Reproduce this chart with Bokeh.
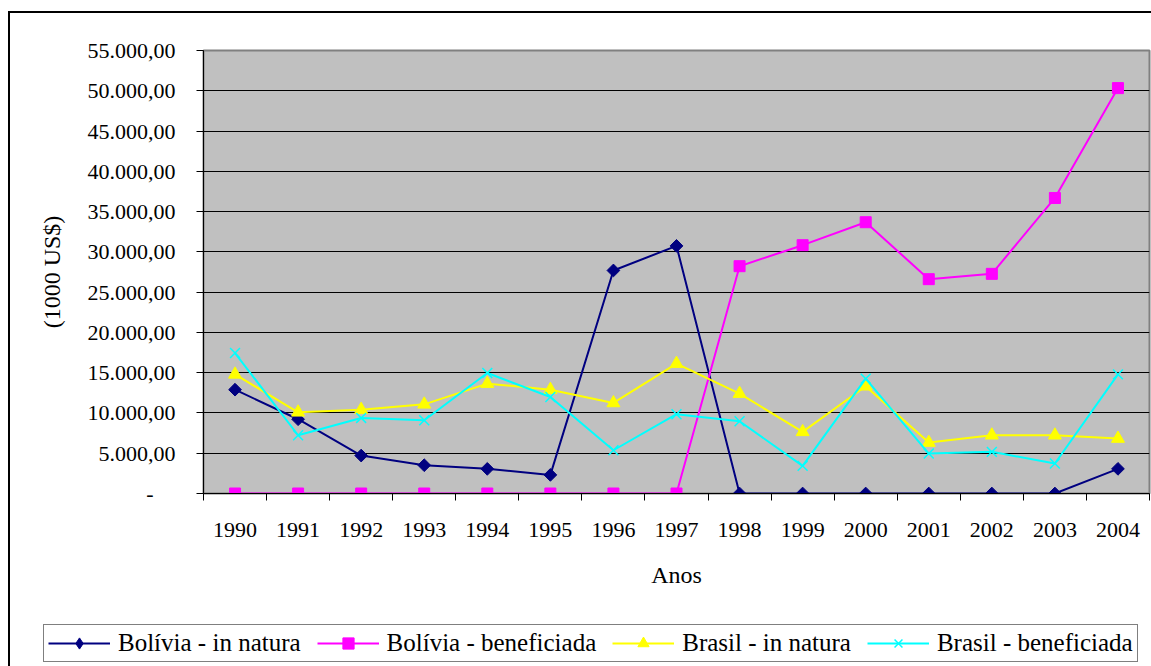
import math
from bokeh.plotting import figure
from bokeh.layouts import column
from bokeh.models import FixedTicker, Legend, LegendItem, Range1d
from bokeh.embed import file_html
from bokeh.resources import INLINE

# ---- data ----
years = [1990, 1991, 1992, 1993, 1994, 1995, 1996, 1997,
         1998, 1999, 2000, 2001, 2002, 2003, 2004]
year_labels = ["1990", "1991", "1992", "1993", "1994", "1995", "1996", "1997",
               "1998", "1999", "2000", "2001", "2002", "2003", "2004"]
bolivia_natura = [12890, 9220, 4710, 3510, 3060, 2310, 27690, 30740,
                  0, 0, 0, 0, 0, 0, 3060]
bolivia_benef = [0, 0, 0, 0, 0, 0, 0, 0,
                 28220, 30830, 33680, 26610, 27270, 36690, 50330]
brasil_natura = [14790, 10080, 10410, 11070, 13640, 12890, 11240, 16120,
                 12400, 7650, 13310, 6320, 7230, 7230, 6820]
brasil_benef = [17440, 7230, 9380, 9090, 14960, 11980, 5370, 9840,
                8970, 3430, 14260, 4960, 5170, 3720, 14790]
y_ticks = [0, 5000, 10000, 15000, 20000, 25000, 30000, 35000, 40000, 45000, 50000, 55000]
y_tick_labels = ["-\u00a0\u00a0\u00a0\u00a0", "5.000,00", "10.000,00", "15.000,00", "20.000,00",
                 "25.000,00", "30.000,00", "35.000,00", "40.000,00", "45.000,00",
                 "50.000,00", "55.000,00"]
series_names = ["Bolívia - in natura", "Bolívia - beneficiada",
                "Brasil - in natura", "Brasil - beneficiada"]

FONT = "Liberation Serif"
series_styles = [
    dict(color="#000080", marker="square", angle=math.pi / 4, size=9,
         legend_marker="diamond", legend_size=14),
    dict(color="#FF00FF", marker="square", angle=0.0, size=11,
         legend_marker="square", legend_size=11),
    dict(color="#FFFF00", marker="triangle", angle=0.0, size=13,
         legend_marker="triangle", legend_size=13),
    dict(color="#00FFFF", marker="x", angle=0.0, size=14,
         legend_marker="x", legend_size=13),
]
series_values = [bolivia_natura, bolivia_benef, brasil_natura, brasil_benef]

p = figure(width=1141, height=600, output_backend="svg", toolbar_location=None,
           x_range=Range1d(years[0] - 0.5, years[-1] + 0.5),
           y_range=Range1d(0, 55000),
           min_border_left=193, min_border_top=37, min_border_right=2,
           min_border_bottom=120)
p.frame_align = False

p.background_fill_color = "#C0C0C0"
p.border_fill_color = "white"
p.outline_line_color = "#808080"
p.outline_line_width = 2

# y axis
p.yaxis.ticker = FixedTicker(ticks=y_ticks)
p.yaxis.major_label_overrides = {t: l for t, l in zip(y_ticks, y_tick_labels)}
p.yaxis.major_tick_out = 7
p.yaxis.major_tick_in = 0
p.yaxis.minor_tick_out = 0
p.yaxis.minor_tick_in = 0
p.yaxis.axis_line_color = "black"
p.yaxis.major_tick_line_color = "black"
p.yaxis.major_label_standoff = 21
p.yaxis.major_label_text_font = FONT
p.yaxis.major_label_text_font_size = "22px"
p.yaxis.major_label_text_color = "black"
p.yaxis.axis_label = "(1000 US$)"
p.yaxis.axis_label_text_font = FONT
p.yaxis.axis_label_text_font_size = "24px"
p.yaxis.axis_label_text_font_style = "normal"
p.yaxis.axis_label_text_color = "black"
p.yaxis.axis_label_standoff = 20

# x axis
p.xaxis.ticker = FixedTicker(ticks=years,
                             minor_ticks=[y - 0.5 for y in years] + [years[-1] + 0.5])
p.xaxis.major_label_overrides = {y: l for y, l in zip(years, year_labels)}
p.xaxis.major_tick_out = 0
p.xaxis.major_tick_in = 0
p.xaxis.minor_tick_out = 7
p.xaxis.minor_tick_in = 0
p.xaxis.minor_tick_line_color = "black"
p.xaxis.axis_line_color = "black"
p.xaxis.major_label_standoff = 22
p.xaxis.major_label_text_font = FONT
p.xaxis.major_label_text_font_size = "22px"
p.xaxis.major_label_text_color = "black"
p.xaxis.axis_label = "Anos"
p.xaxis.axis_label_text_font = FONT
p.xaxis.axis_label_text_font_size = "24px"
p.xaxis.axis_label_text_font_style = "normal"
p.xaxis.axis_label_text_color = "black"
p.xaxis.axis_label_standoff = 22

# grid
p.xgrid.grid_line_color = None
p.ygrid.ticker = FixedTicker(ticks=y_ticks[1:-1])
p.ygrid.grid_line_color = "black"
p.ygrid.grid_line_width = 1

# series
for vals, st in zip(series_values, series_styles):
    p.line(years, vals, line_color=st["color"], line_width=2)
    if st["marker"] == "x":
        p.scatter(years, vals, marker="x", size=st["size"],
                  line_color=st["color"], line_width=1.5)
    else:
        p.scatter(years, vals, marker=st["marker"], angle=st["angle"], size=st["size"],
                  fill_color=st["color"], line_color=st["color"])

# legend strip (separate figure so the legend can sit left of the plot area)
lf = figure(width=1141, height=53, output_backend="svg", toolbar_location=None,
            x_range=Range1d(0, 1), y_range=Range1d(0, 1),
            x_axis_location=None, y_axis_location=None,
            min_border_left=0, min_border_right=0, min_border_top=0, min_border_bottom=0)
lf.frame_align = False
lf.outline_line_color = None
lf.background_fill_color = "white"
lf.border_fill_color = "white"
lf.xgrid.grid_line_color = None
lf.ygrid.grid_line_color = None

items = []
for name, st in zip(series_names, series_styles):
    # proxy renderers (point kept outside the visible range) used only for legend swatches
    lr = lf.line([-5, -4], [-5, -4], line_color=st["color"], line_width=2)
    if st["legend_marker"] == "x":
        sr = lf.scatter([-5], [-5], marker="x", size=st["legend_size"],
                        line_color=st["color"], line_width=1.5)
    else:
        sr = lf.scatter([-5], [-5], marker=st["legend_marker"], size=st["legend_size"],
                        fill_color=st["color"], line_color=st["color"])
    items.append(LegendItem(label=name, renderers=[lr, sr]))

legend = Legend(items=items, orientation="horizontal", location=(33, 4),
                border_line_color="black", border_line_width=1,
                background_fill_color="white", background_fill_alpha=1.0,
                label_text_font=FONT, label_text_font_size="25px",
                label_text_color="black",
                glyph_width=62, glyph_height=28, label_standoff=8,
                spacing=16, padding=4, margin=0)
lf.add_layout(legend)

layout = column(p, lf, spacing=0,
                styles={"border-top": "2px solid black", "border-left": "2px solid black",
                        "margin-top": "11px", "margin-left": "8px"})

open("out.html", "w").write(file_html(layout, INLINE))
